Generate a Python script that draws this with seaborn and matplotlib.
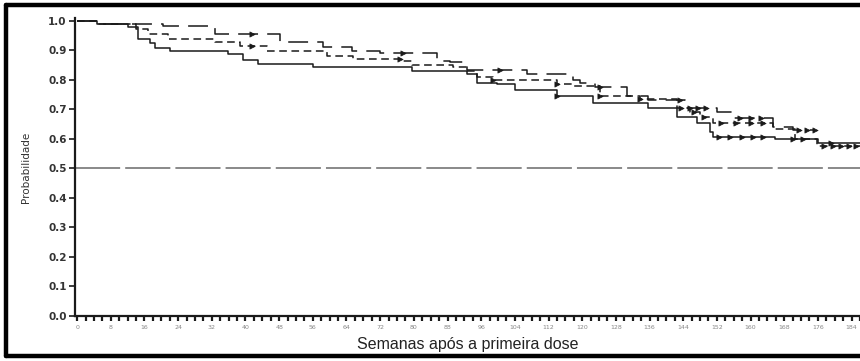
import numpy as np
import pandas as pd
import matplotlib
matplotlib.use("Agg")
import matplotlib.pyplot as plt
from matplotlib.lines import Line2D
import seaborn as sns

# Kaplan-Meier step curves: (week, survival probability)
solid_weeks = [0, 4.75, 12.1, 14.5, 17.3, 18.5, 22.1, 35.9, 39.4, 43.0, 56.1, 79.6,
               92.6, 95.0, 99.8, 104.0, 114.0, 122.6, 135.6, 142.5, 147.3, 150.4,
               151.0, 165.8, 176.0, 186.0]
solid_prob = [1.0, 0.99, 0.98, 0.94, 0.925, 0.91, 0.898, 0.887, 0.867, 0.853, 0.843, 0.83,
              0.82, 0.79, 0.785, 0.765, 0.745, 0.723, 0.706, 0.676, 0.655, 0.625,
              0.608, 0.60, 0.585, 0.585]
solid_cens = [114.0, 152.5, 155.0, 158.0, 160.5, 163.0, 170.0, 172.5, 179.0]
solid_cens_p = [0.745, 0.608, 0.608, 0.608, 0.608, 0.608, 0.60, 0.60, 0.585]

medium_weeks = [0, 4.75, 14.0, 16.9, 21.6, 32.8, 38.7, 45.1, 59.4, 65.6, 77.4, 79.6,
                89.3, 92.6, 95.0, 98.8, 114.0, 117.8, 124.2, 133.7, 142.5, 145.6,
                148.0, 151.0, 165.3, 170.5, 175.8, 186.0]
medium_prob = [1.0, 0.99, 0.973, 0.955, 0.94, 0.928, 0.915, 0.898, 0.88, 0.87, 0.863, 0.85,
               0.843, 0.83, 0.81, 0.80, 0.785, 0.778, 0.745, 0.735, 0.705, 0.69,
               0.675, 0.655, 0.635, 0.60, 0.575, 0.575]
medium_cens = [41.6, 76.7, 98.8, 114.0, 124.2, 133.7, 143.5, 146.5, 149.0, 153.0, 156.5,
               160.0, 163.0, 177.5, 179.5, 181.5, 183.5, 185.0]
medium_cens_p = [0.915, 0.87, 0.80, 0.785, 0.745, 0.735, 0.705, 0.69, 0.675, 0.655, 0.655,
                 0.655, 0.655, 0.575, 0.575, 0.575, 0.575, 0.575]

long_weeks = [0, 4.75, 20.4, 32.8, 48.2, 58.4, 65.3, 72.0, 85.5, 88.6, 92.6, 106.9,
              117.8, 119.5, 123.0, 130.6, 135.6, 144.4, 152.0, 155.8, 165.3, 170.0, 175.3]
long_prob = [1.0, 0.99, 0.983, 0.955, 0.928, 0.911, 0.898, 0.89, 0.864, 0.86, 0.835, 0.82,
             0.80, 0.79, 0.775, 0.745, 0.733, 0.705, 0.69, 0.672, 0.64, 0.63, 0.63]
long_cens = [41.6, 77.4, 100.5, 124.2, 143.2, 145.5, 147.5, 149.5, 157.5, 160.0, 162.5,
             171.5, 173.5, 175.3]
long_cens_p = [0.955, 0.89, 0.835, 0.775, 0.733, 0.705, 0.705, 0.705, 0.672, 0.672, 0.672,
               0.63, 0.63, 0.63]

reference_level = 0.5
x_major = list(range(0, 185, 8))
y_ticks = [0.0, 0.1, 0.2, 0.3, 0.4, 0.5, 0.6, 0.7, 0.8, 0.9, 1.0]

sns.set_theme(style="white")
plt.rcParams["font.family"] = ["DejaVu Sans"]

fig = plt.figure(figsize=(8.6, 3.61), dpi=100)
ax = fig.add_axes([0.0872, 0.1247, 0.9128, 0.8253])

ink = "#1a1a1a"
curves = [
    (solid_weeks, solid_prob, solid_cens, solid_cens_p, (0, ()), 1.1),
    (medium_weeks, medium_prob, medium_cens, medium_cens_p, (0, (5, 3)), 1.1),
    (long_weeks, long_prob, long_cens, long_cens_p, (0, (13, 6)), 1.1),
]
for wk, pr, cw, cp, ls, lw in curves:
    df = pd.DataFrame({"semana": wk, "prob": pr})
    sns.lineplot(data=df, x="semana", y="prob", ax=ax, drawstyle="steps-post",
                 estimator=None, sort=False, color=ink, linewidth=lw, linestyle=ls)
    cdf = pd.DataFrame({"semana": cw, "prob": cp})
    sns.scatterplot(data=cdf, x="semana", y="prob", ax=ax, marker=">", s=14,
                    color=ink, edgecolor=ink, linewidth=0.5, zorder=4)

ax.axhline(reference_level, color="#808080", linewidth=1.3, linestyle=(0, (25, 2.8)),
           zorder=1)

ax.set_xlim(-0.5, 186)
ax.set_ylim(0, 1.01)
ax.set_xticks(x_major)
ax.set_xticks(np.arange(0, 187, 2), minor=True)
ax.set_xticklabels([str(v) for v in x_major], fontsize=4.5, color="#888888")
ax.set_yticks(y_ticks)
ax.set_yticklabels([f"{v:.1f}" for v in y_ticks], fontsize=7.5, fontweight="bold",
                   color="#333333")
ax.tick_params(axis="x", which="both", direction="out", length=3.5, width=1.6,
               color=ink, pad=3)
ax.tick_params(axis="y", direction="out", length=4, width=1.2, color=ink, pad=2)
ax.xaxis.set_ticks_position("bottom")
ax.yaxis.set_ticks_position("left")

for side in ("top", "right"):
    ax.spines[side].set_visible(False)
for side in ("left", "bottom"):
    ax.spines[side].set_color(ink)
    ax.spines[side].set_linewidth(1.6)

ax.set_xlabel("Semanas após a primeira dose", fontsize=11.5, family="Liberation Sans",
              color="#222222", labelpad=5)
ax.set_ylabel("Probabilidade", fontsize=7.5, color="#333333", labelpad=12)

# Outer frame
for coords in (([0.0075, 0.0075], [0.0125, 0.985]),
               ([0.0075, 1.0], [0.985, 0.985]),
               ([0.0075, 1.0], [0.0125, 0.0125])):
    fig.add_artist(Line2D(coords[0], coords[1], color="black", linewidth=3.2,
                          transform=fig.transFigure))

fig.savefig("out.png", dpi=100)
